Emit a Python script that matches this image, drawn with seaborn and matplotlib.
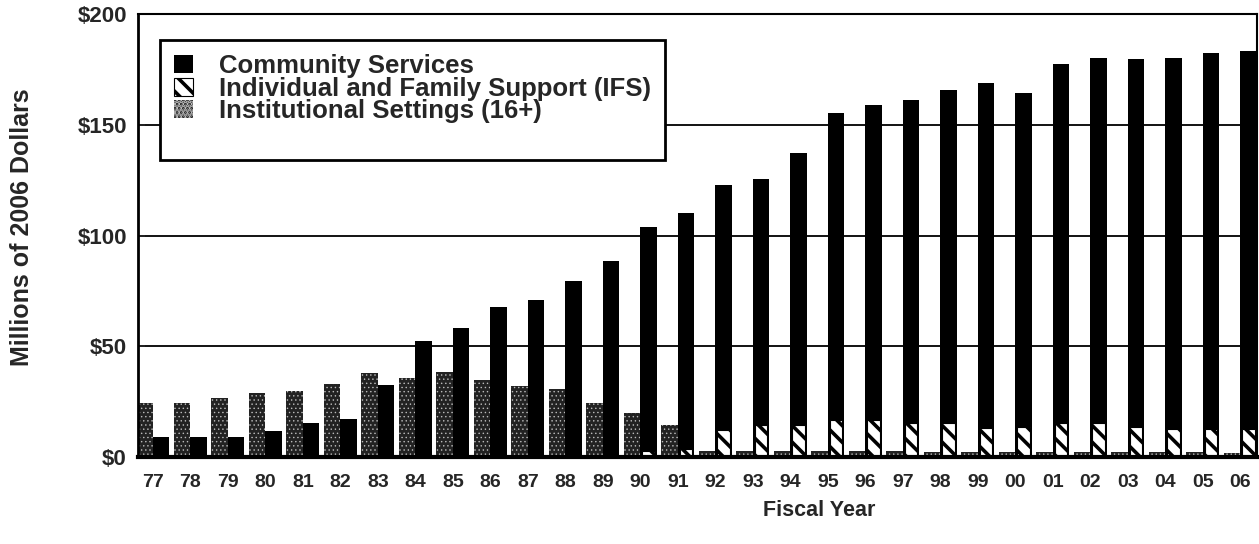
import numpy as np
import pandas as pd
import matplotlib
matplotlib.use("Agg")
import matplotlib.pyplot as plt
from matplotlib.patches import Patch
import seaborn as sns

# values (millions of 2006 dollars)
years = ["77", "78", "79", "80", "81", "82", "83", "84", "85", "86",
         "87", "88", "89", "90", "91", "92", "93", "94", "95", "96",
         "97", "98", "99", "00", "01", "02", "03", "04", "05", "06"]
community = [9.0, 9.0, 9.0, 11.7, 15.3, 17.1, 32.4, 52.3, 58.1, 67.6,
             70.7, 79.3, 88.7, 104.0, 110.0, 123.0, 125.7, 137.4, 155.4, 159.0,
             161.3, 165.8, 168.9, 164.4, 177.5, 180.2, 179.7, 180.0, 182.4, 183.3]
ifs = [0.2, 0.2, 0.2, 0.2, 0.2, 0.2, 0.2, 0.2, 0.2, 0.3,
       0.5, 0.8, 1.0, 2.5, 3.5, 12.2, 14.4, 14.4, 16.7, 16.7,
       15.3, 15.3, 13.0, 13.5, 15.3, 15.3, 13.5, 12.6, 12.6, 12.6]
institutional = [24.3, 24.5, 26.6, 28.8, 29.7, 32.9, 37.8, 35.6, 38.3, 34.7,
                 32.0, 30.6, 24.3, 20.0, 14.4, 2.8, 2.8, 2.7, 2.6, 2.6,
                 2.5, 2.4, 2.4, 2.3, 2.3, 2.2, 2.2, 2.1, 2.1, 2.0]

labels = ["Community Services",
          "Individual and Family Support (IFS)",
          "Institutional Settings (16+)"]
yticks = [0, 50, 100, 150, 200]

sns.set_style("white")
plt.rcParams["font.family"] = ["Liberation Sans", "DejaVu Sans"]
plt.rcParams["font.weight"] = "bold"
plt.rcParams["hatch.linewidth"] = 2.6

fig = plt.figure(figsize=(12.59, 5.44), dpi=100)
ax = fig.add_axes([138 / 1259, 87 / 544, (1257 - 138) / 1259, (457 - 14) / 544])

df = pd.DataFrame({
    "year": years * 2,
    "value": institutional + community,
    "series": ["inst"] * len(years) + ["comm"] * len(years),
})
sns.barplot(data=df, x="year", y="value", hue="series", order=years,
            hue_order=["inst", "comm"],
            palette={"inst": "#222222", "comm": "black"},
            width=0.88, dodge=True, saturation=1, errorbar=None,
            legend=False, ax=ax)
sns.barplot(x=years, y=ifs, order=years, color="white", width=0.34,
            saturation=1, errorbar=None, ax=ax)

inst_bars, comm_bars, ifs_bars = ax.containers[0], ax.containers[1], ax.containers[2]
for b in inst_bars:
    b.set_hatch("....")
    b.set_edgecolor("#bbbbbb")
    b.set_linewidth(0)
    if hasattr(b, "set_hatch_linewidth"):
        b.set_hatch_linewidth(0.5)
for b in comm_bars:
    b.set_linewidth(0)
for b in ifs_bars:
    # IFS sits in front of the community bar
    b.set_x(b.get_x() + 0.22)
    b.set_hatch("\\\\")
    b.set_edgecolor("black")
    b.set_linewidth(0.8)

ax.set_xlim(-0.4, len(years) - 0.55)
ax.set_ylim(0, 200)
ax.set_yticks(yticks)
ax.set_yticklabels([f"${v}" for v in yticks])
ax.set_xticks(np.arange(len(years)))
ax.set_xticklabels(years)
ax.set_xticks(np.arange(len(years) - 1) + 0.5, minor=True)
ax.tick_params(axis="x", which="major", length=0, pad=12, labelsize=14)
ax.tick_params(axis="x", which="minor", direction="in", length=13, width=1.5, color="black")
ax.tick_params(axis="y", which="major", direction="in", length=5, width=1.2,
               pad=8, labelsize=16, left=True)

for v in yticks[1:-1]:
    ax.axhline(v, color="black", lw=1.3, zorder=0.5)

for side in ["left", "right", "top", "bottom"]:
    ax.spines[side].set_visible(True)
    ax.spines[side].set_color("black")
ax.spines["left"].set_linewidth(2)
ax.spines["bottom"].set_linewidth(3)
ax.spines["top"].set_linewidth(1.5)
ax.spines["right"].set_linewidth(1.5)

ax.set_ylabel("Millions of 2006 Dollars", fontsize=18, fontweight="bold",
              va="center", ha="center")
ax.yaxis.set_label_coords((22 - 138) / 1119, (457 - 227) / 443)
ax.set_xlabel("Fiscal Year", fontsize=15.5, fontweight="bold", va="center", ha="center")
ax.xaxis.set_label_coords((819 - 138) / 1119, -(510 - 457) / 443)

handles = [
    Patch(facecolor="black", edgecolor="black", lw=0),
    Patch(facecolor="white", edgecolor="black", hatch="\\\\", lw=0.8),
    Patch(facecolor="#222222", edgecolor="#bbbbbb", hatch="....", lw=0),
    Patch(facecolor="none", edgecolor="none"),
]
leg = ax.legend(handles, labels + [" "], loc="upper left",
                bbox_to_anchor=(160 / 1259, 1 - 40 / 544), bbox_transform=fig.transFigure,
                borderaxespad=0, frameon=True, fancybox=False, framealpha=1,
                edgecolor="black", prop={"size": 18.5, "weight": "bold"},
                labelspacing=-0.06, handlelength=0.75, handleheight=0.7,
                handletextpad=1.0, borderpad=0.55)
leg.get_frame().set_linewidth(2)

fig.savefig("out.png", dpi=100)
